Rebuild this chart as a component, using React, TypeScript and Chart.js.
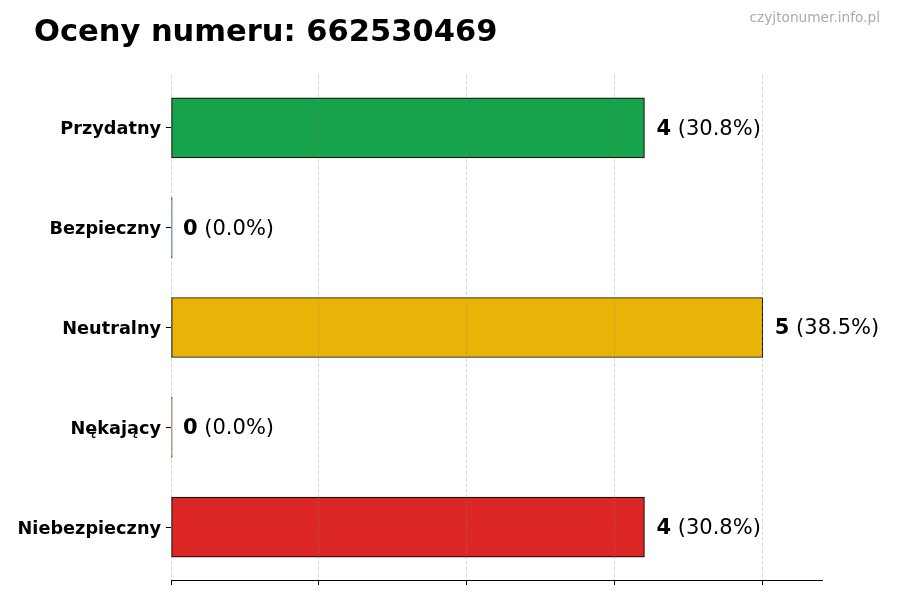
import React, { useEffect, useRef } from "react";
import { Chart, registerables } from "chart.js";

Chart.register(...registerables);

const TITLE = "Oceny numeru: 662530469";
const WATERMARK = "czyjtonumer.info.pl";
const CATEGORIES = ["Przydatny", "Bezpieczny", "Neutralny", "Nękający", "Niebezpieczny"];
const VALUES = [4, 0, 5, 0, 4];
const PERCENTS = ["30.8%", "0.0%", "38.5%", "0.0%", "30.8%"];
const COLORS = ["#16a34a", "#3b82f6", "#eab308", "#f97316", "#dc2626"];
const X_TICKS = [0, 1.25, 2.5, 3.75, 5];
const Y_INDEX = [0, 1, 2, 3, 4];

const FONT = "'DejaVu Sans', sans-serif";

const overlayPlugin = {
  id: "overlay",
  afterDatasetsDraw(chart: any) {
    const ctx = chart.ctx;
    const xs = chart.scales.x;
    const meta = chart.getDatasetMeta(0);
    ctx.save();
    ctx.textBaseline = "middle";
    ctx.textAlign = "left";
    ctx.fillStyle = "#000";
    meta.data.forEach((el: any, i: number) => {
      const x = xs.getPixelForValue(VALUES[i]) + 12;
      const y = el.y + 1.5;
      ctx.font = `bold 21px ${FONT}`;
      const v = String(VALUES[i]);
      ctx.fillText(v, x, y);
      const w = ctx.measureText(v).width;
      ctx.font = `21px ${FONT}`;
      ctx.fillText(` (${PERCENTS[i]})`, x + w, y);
    });
    ctx.restore();
  },
  afterDraw(chart: any) {
    const ctx = chart.ctx;
    ctx.save();
    ctx.textBaseline = "alphabetic";
    ctx.fillStyle = "#000";
    ctx.textAlign = "left";
    ctx.font = `bold 30.5px ${FONT}`;
    ctx.fillText(TITLE, 34, 41);
    ctx.fillStyle = "#aaaaaa";
    ctx.textAlign = "right";
    ctx.font = `13.7px ${FONT}`;
    ctx.fillText(WATERMARK, 880, 22);
    ctx.restore();
  },
};

export default function App() {
  const ref = useRef<HTMLCanvasElement>(null);
  useEffect(() => {
    if (!ref.current) return;
    const chart = new Chart(ref.current, {
      type: "bar",
      data: {
        datasets: [
          {
            data: VALUES.map((v, i) => ({ x: v, y: Y_INDEX[i] })) as any,
            backgroundColor: COLORS,
            borderColor: "#111",
            borderWidth: 1.2,
            borderSkipped: false,
            barThickness: 60,
            minBarLength: 1.2,
          },
        ],
      },
      options: {
        indexAxis: "y",
        animation: false,
        responsive: false,
        devicePixelRatio: 1,
        layout: { padding: { left: 0, right: 78, top: 75, bottom: 0 } },
        plugins: {
          legend: { display: false },
          title: { display: false },
          tooltip: { enabled: false },
        },
        scales: {
          x: {
            type: "linear",
            min: 0,
            max: 5.5,
            afterBuildTicks: (scale: any) => {
              scale.ticks = X_TICKS.map((v) => ({ value: v }));
            },
            afterFit: (scale: any) => {
              scale.height = 20;
            },
            ticks: { display: false },
            grid: {
              display: true,
              color: "rgba(128,128,128,0.3)",
              lineWidth: 1,
              drawTicks: true,
              tickLength: 5,
              tickColor: "#000",
              tickWidth: 1,
              tickBorderDash: [],
              z: 1,
            },
            border: { display: true, color: "#000", width: 1, dash: [4, 2], z: 1 },
          },
          y: {
            type: "linear",
            min: -0.53,
            max: 4.53,
            reverse: true,
            offset: false,
            afterBuildTicks: (scale: any) => {
              scale.ticks = Y_INDEX.map((v) => ({ value: v }));
            },
            afterFit: (scale: any) => {
              scale.width = 171;
            },
            ticks: {
              autoSkip: false,
              padding: 5,
              labelOffset: 2,
              color: "#000",
              font: { family: FONT, size: 17.7, weight: "bold" },
              callback: (v: any) => CATEGORIES[v as number] ?? "",
            },
            grid: {
              offset: false,
              drawOnChartArea: false,
              drawTicks: true,
              tickLength: 5,
              tickColor: "#000",
              tickWidth: 1,
            },
            border: { display: false },
          },
        },
      } as any,
      plugins: [overlayPlugin],
    });
    return () => chart.destroy();
  }, []);
  return (
    <div style={{ position: "absolute", left: 0, top: 0, width: 900, height: 600, background: "#fff" }}>
      <canvas ref={ref} width={900} height={600} style={{ width: 900, height: 600, display: "block" }} />
    </div>
  );
}
